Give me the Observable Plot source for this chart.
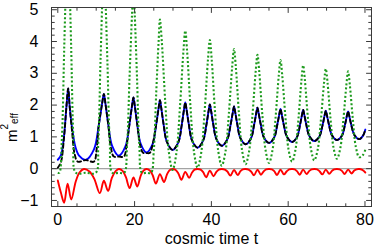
<!DOCTYPE html>
<html><head><meta charset="utf-8">
<script src="https://cdn.jsdelivr.net/npm/d3@7"></script>
<script src="https://cdn.jsdelivr.net/npm/@observablehq/plot@0.6"></script>
<style>body{margin:0;background:#fff}</style>
</head><body><div id="chart"></div>
<script>
// ---- data ----
const blueT = [0,0.8,1.6,2.25,2.7,3.1,3.7,4.6,5.6,7.3,9.42,10.68,11.53,12.0,12.39,13.09,14.15,15.9,17.61,18.64,19.32,19.7,20.04,20.65,21.57,23.1,24.68,25.62,26.25,26.6,26.93,27.52,28.42,29.9,31.39,32.28,32.87,33.2,33.52,34.1,34.96,36.4,37.84,38.7,39.28,39.6,39.91,40.47,41.31,42.7,44.14,45.0,45.58,45.9,46.2,46.74,47.55,48.9,50.3,51.13,51.69,52.0,52.3,52.84,53.65,55.0,56.35,57.16,57.7,58.0,58.3,58.84,59.65,61.0,62.31,63.09,63.61,63.9,64.19,64.71,65.5,66.8,68.15,68.96,69.5,69.8,70.09,70.61,71.4,72.7,74.01,74.79,75.31,75.6,75.89,76.41,77.2,78.5,79.5,80.1];
const blueV = [0.28,0.42,1.0,1.95,2.52,1.95,1.3,0.68,0.4,0.28,0.61,1.38,2.04,2.35,2.06,1.44,0.72,0.41,0.70,1.38,1.97,2.24,1.98,1.43,0.79,0.51,0.77,1.38,1.90,2.15,1.92,1.42,0.84,0.59,0.83,1.38,1.86,2.08,1.87,1.41,0.89,0.66,0.88,1.38,1.82,2.02,1.83,1.41,0.93,0.72,0.92,1.38,1.77,1.96,1.78,1.40,0.96,0.77,0.95,1.38,1.75,1.92,1.75,1.40,0.99,0.81,0.98,1.38,1.72,1.88,1.72,1.39,1.01,0.84,1.00,1.38,1.70,1.85,1.70,1.39,1.03,0.87,1.02,1.37,1.68,1.82,1.68,1.39,1.05,0.90,1.04,1.38,1.67,1.80,1.67,1.39,1.07,0.93,1.04,1.23];

// black dashed: early part read separately, later it lies on the blue curve
const blackEarlyT = [0,0.8,1.6,2.25,2.7,3.1,3.7,4.4,5.2,7.3,9.4,10.1,10.68,11.53,12.0,12.39,13.09,13.9,14.6,15.9,17.2,17.9,18.64,19.32,19.7,20.04,20.65,21.5,22.2,23.1,24.0,24.7];
const blackEarlyV = [0.03,0.2,0.95,1.95,2.52,1.95,1.2,0.45,0.22,0.27,0.22,0.6,1.38,2.04,2.35,2.06,1.44,0.62,0.38,0.38,0.38,0.72,1.38,1.97,2.24,1.98,1.43,0.72,0.5,0.49,0.5,0.77];

const greenT = [0,0.4,1.06,1.68,2.27,2.6,2.92,3.48,4.07,4.7,7.3,9.9,10.53,11.12,11.69,12.0,12.33,12.92,13.54,14.2,15.9,17.3,18.02,18.69,19.34,19.7,20.03,20.62,21.24,21.9,23.1,24.3,24.99,25.63,26.26,26.6,27.1,27.99,28.91,29.9,30.89,31.81,32.71,33.2,33.68,34.54,35.44,36.4,37.36,38.26,39.12,39.6,40.07,40.9,41.77,42.7,43.66,44.56,45.42,45.9,46.35,47.16,48.0,48.9,49.83,50.7,51.54,52.0,52.45,53.26,54.1,55.0,55.9,56.74,57.55,58.0,58.45,59.26,60.1,61.0,61.87,62.68,63.47,63.9,64.34,65.12,65.93,66.8,67.7,68.54,69.35,69.8,70.24,71.02,71.83,72.7,73.57,74.38,75.17,75.6,76.04,76.82,77.63,78.5,79.4,80.1];
const greenV = [-0.13,-0.13,0.94,3.84,6.43,7.5,6.43,3.84,0.94,-0.13,-0.13,-0.13,0.81,3.37,5.66,6.6,5.66,3.37,0.81,-0.13,-0.13,-0.13,0.69,2.90,4.88,5.7,4.88,2.90,0.69,-0.13,-0.13,-0.13,0.55,2.38,4.02,4.69,3.98,2.09,0.53,-0.04,0.49,1.93,3.68,4.34,3.69,1.97,0.55,0.03,0.51,1.84,3.45,4.05,3.46,1.87,0.57,0.09,0.53,1.74,3.21,3.76,3.22,1.77,0.57,0.14,0.55,1.69,3.06,3.58,3.07,1.71,0.59,0.18,0.57,1.64,2.93,3.42,2.94,1.66,0.60,0.22,0.58,1.58,2.80,3.25,2.80,1.61,0.62,0.26,0.61,1.56,2.71,3.14,2.72,1.58,0.65,0.31,0.64,1.55,2.65,3.06,2.66,1.58,0.68,0.36,0.42,0.6];

const redT = [0,0.8,1.65,2.55,3.5,4.66,5.65,6.8,8.25,9.5,10.95,12.0,13.1,14.08,15.06,15.9,16.88,17.72,18.7,19.7,20.7,21.54,22.26,23.1,23.96,24.69,25.55,26.6,27.65,28.44,29.11,29.9,30.7,31.4,32.2,33.2,34.2,34.97,35.63,36.4,37.19,37.86,38.65,39.6,40.55,41.3,41.95,42.7,43.49,44.16,44.95,45.9,46.85,47.57,48.18,48.9,49.67,50.33,51.1,52.0,52.9,53.64,54.27,55.0,55.74,56.37,57.1,58.0,58.9,59.64,60.27,61.0,61.7,62.3,63.0,63.9,64.8,65.5,66.1,66.8,67.54,68.17,68.9,69.8,70.7,71.4,72.0,72.7,73.4,74.0,74.7,75.6,76.5,77.2,77.8,78.5,79.3,80.1];
const redV = [-0.37,-0.75,-1.07,-0.47,-0.97,-0.41,-0.12,-0.01,-0.09,-0.32,-0.77,-0.38,-0.70,-0.29,-0.08,-0.01,-0.07,-0.26,-0.61,-0.28,-0.56,-0.24,-0.07,-0.01,-0.06,-0.20,-0.47,-0.17,-0.42,-0.18,-0.05,-0.01,-0.04,-0.15,-0.35,-0.10,-0.29,-0.12,-0.03,-0.01,-0.03,-0.11,-0.27,-0.06,-0.24,-0.10,-0.03,-0.01,-0.03,-0.09,-0.22,-0.04,-0.20,-0.08,-0.02,-0.01,-0.03,-0.09,-0.21,-0.03,-0.19,-0.08,-0.02,-0.01,-0.02,-0.08,-0.20,-0.03,-0.18,-0.08,-0.02,-0.01,-0.02,-0.08,-0.19,-0.03,-0.17,-0.07,-0.02,-0.01,-0.02,-0.08,-0.18,-0.03,-0.16,-0.07,-0.02,-0.01,-0.02,-0.07,-0.17,-0.03,-0.15,-0.06,-0.02,-0.01,-0.04,-0.12];

const xTicks = [0, 20, 40, 60, 80];
const xMinorTicks = [5, 10, 15, 25, 30, 35, 45, 50, 55, 65, 70, 75];
const yTicks = [-1, 0, 1, 2, 3, 4, 5];
const yMinorTicks = [-0.8,-0.6,-0.4,-0.2,0.2,0.4,0.6,0.8,1.2,1.4,1.6,1.8,2.2,2.4,2.6,2.8,3.2,3.4,3.6,3.8,4.2,4.4,4.6,4.8];
const xLabel = "cosmic time t";
const yLabelMain = "m", yLabelSup = "2", yLabelSub = "eff";

// ---- build tables ----
const rows = (T, V) => T.map((t, i) => ({t, v: V[i]}));
const blue = rows(blueT, blueV);
const black = rows(blackEarlyT, blackEarlyV).concat(blue.filter(d => d.t > 25));
const green = rows(greenT, greenV);
const red = rows(redT, redV);

const frameColor = "#3a3a3a";
const tickShape = {draw(ctx, l) { ctx.moveTo(0, 0); ctx.lineTo(0, -l); }};
const font = "'Liberation Sans', Arial, Helvetica, sans-serif";
const lineOpts = {x: "t", y: "v", curve: "catmull-rom", clip: true};
const fmt = d => (d < 0 ? "\u2212" : "") + Math.abs(d);
const tk = (data, side, len) => {
  const o = {anchor: "start", shape: tickShape, length: len, stroke: frameColor, strokeWidth: 1, frameAnchor: side};
  if (side === "bottom") return Plot.vector(data, {...o, x: d => d, rotate: 0});
  if (side === "top") return Plot.vector(data, {...o, x: d => d, rotate: 180});
  if (side === "left") return Plot.vector(data, {...o, y: d => d, rotate: 90});
  return Plot.vector(data, {...o, y: d => d, rotate: 270});
};

const plot = Plot.plot({
  width: 374, height: 251,
  marginLeft: 51, marginRight: 3, marginTop: 7, marginBottom: 45,
  x: {domain: [-1.64, 81.7]},
  y: {domain: [-1.19, 5.07]},
  style: {fontFamily: font, fontSize: "16px", background: "white", color: "black"},
  marks: [
    Plot.ruleY([0], {stroke: "#a3a3a3", strokeWidth: 1.4}),
    Plot.line(red, {...lineOpts, stroke: "#ff0000", strokeWidth: 1.9}),
    Plot.line(blue, {...lineOpts, stroke: "#0000ff", strokeWidth: 1.9}),
    Plot.line(black, {...lineOpts, stroke: "#000000", strokeWidth: 1.9, strokeDasharray: "4,3"}),
    Plot.line(green, {...lineOpts, stroke: "#1c9a1c", strokeWidth: 2.1, strokeDasharray: "2,2.2", strokeLinecap: "butt"}),
    Plot.frame({stroke: frameColor}),
    tk(xTicks, "bottom", 5), tk(xMinorTicks, "bottom", 2.8),
    tk(xTicks, "top", 5), tk(xMinorTicks, "top", 2.8),
    tk(yTicks, "left", 5), tk(yMinorTicks, "left", 2.8),
    tk(yTicks, "right", 5), tk(yMinorTicks, "right", 2.8),
    Plot.axisX({ticks: xTicks, tickSize: 0, tickPadding: 7, label: null, fontSize: 16, tickFormat: fmt}),
    Plot.axisY({ticks: yTicks, tickSize: 0, tickPadding: 13, label: null, fontSize: 16, tickFormat: fmt}),
    Plot.text([xLabel], {frameAnchor: "bottom", dy: 37, fontSize: 16})
  ]
});

const svg = d3.select(plot);
const lab = svg.append("text")
  .attr("transform", "translate(16.7,127.5) rotate(-90)")
  .attr("font-family", font).attr("font-size", 15).attr("fill", "black");
lab.append("tspan").text(yLabelMain);
lab.append("tspan").attr("font-size", 10).attr("dy", -8.4).text(yLabelSup);
lab.append("tspan").attr("font-size", 10).attr("dy", 9.4).text(yLabelSub);

document.getElementById("chart").appendChild(plot);
</script>
</body></html>
